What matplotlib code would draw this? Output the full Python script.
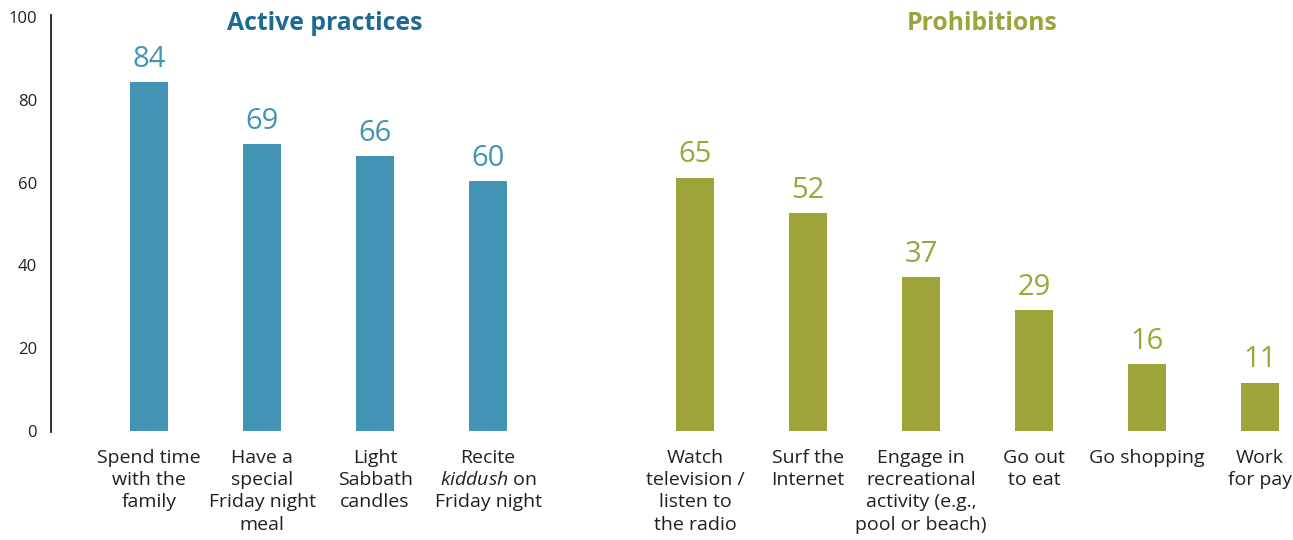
import numpy as np
import matplotlib.pyplot as plt

plt.rcParams['font.family'] = ['Open Sans', 'DejaVu Sans']
plt.rcParams['mathtext.fontset'] = 'custom'
plt.rcParams['mathtext.it'] = 'Open Sans:italic'
plt.rcParams['mathtext.rm'] = 'Open Sans'

# data
active_labels = ['Spend time\nwith the\nfamily', 'Have a\nspecial\nFriday night\nmeal',
                 'Light\nSabbath\ncandles', 'Recite\n$\\it{kiddush}$ on\nFriday night']
active_heights = [84.3, 69.3, 66.4, 60.4]
active_text = ['84', '69', '66', '60']

prohib_labels = ['Watch\ntelevision /\nlisten to\nthe radio', 'Surf the\nInternet',
                 'Engage in\nrecreational\nactivity (e.g.,\npool or beach)', 'Go out\nto eat',
                 'Go shopping', 'Work\nfor pay']
prohib_heights = [61.2, 52.6, 37.2, 29.2, 16.2, 11.7]
prohib_text = ['65', '52', '37', '29', '16', '11']

blue = '#4393b5'
blue_dark = '#1d6a93'
green = '#9ca43a'
dark = '#231f20'

x_a = np.arange(len(active_heights))
x_p = 4.83 + np.arange(len(prohib_heights))

fig = plt.figure(figsize=(12.93, 5.40), dpi=100)
ax = fig.add_axes([51 / 1293, 1 - 431 / 540, 1242 / 1293, 414 / 540])

bw = 0.336
bars_a = ax.bar(x_a, active_heights, width=bw, color=blue)
bars_p = ax.bar(x_p, prohib_heights, width=bw, color=green)

for b, t in zip(bars_a, active_text):
    ax.annotate(t, (b.get_x() + b.get_width() / 2, b.get_height()), xytext=(0, 6),
                textcoords='offset points', ha='center', va='bottom', fontsize=21, color=blue)
for b, t in zip(bars_p, prohib_text):
    ax.annotate(t, (b.get_x() + b.get_width() / 2, b.get_height()), xytext=(0, 6),
                textcoords='offset points', ha='center', va='bottom', fontsize=21, color=green)

ax.set_xlim(-0.867, 10.12)
ax.set_ylim(0, 100)
ax.set_xticks(list(x_a) + list(x_p), active_labels + prohib_labels)
ax.set_yticks([0, 20, 40, 60, 80, 100])
ax.tick_params(axis='x', length=0, pad=13, labelsize=14, colors=dark)
ax.tick_params(axis='y', length=0, pad=10, labelsize=12, colors=dark)
for lab in ax.get_xticklabels():
    lab.set_linespacing(1.3)
    lab.set_va('top')

for s in ['top', 'right', 'bottom']:
    ax.spines[s].set_visible(False)
ax.spines['left'].set_color(dark)
ax.spines['left'].set_linewidth(1.3)
ax.spines['left'].set_bounds(-0.2, 100.5)

fig.text(325 / 1293, 1 - 23 / 540, 'Active practices', ha='center', va='center',
         fontsize=17.8, fontweight='bold', color=blue_dark)
fig.text(982 / 1293, 1 - 23 / 540, 'Prohibitions', ha='center', va='center',
         fontsize=17.8, fontweight='bold', color=green)

fig.savefig('out.png', dpi=100)
